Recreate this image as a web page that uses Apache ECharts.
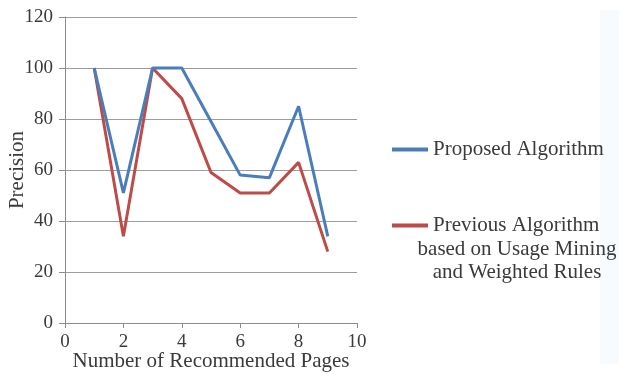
<!DOCTYPE html>
<html>
<head>
<meta charset="utf-8">
<script src="https://cdn.jsdelivr.net/npm/echarts@6/dist/echarts.min.js"></script>
<style>
  html, body { margin: 0; padding: 0; background: #ffffff; }
  #chart { width: 619px; height: 374px; }
</style>
</head>
<body>
<div id="chart"></div>
<script>
// Number of recommended pages (x positions)
const pages = [1, 2, 3, 4, 5, 6, 7, 8, 9];
// Precision of each algorithm
const proposed = [100, 51, 100, 100, 79, 58, 57, 85, 34];
const previous = [100, 34, 100, 88, 59, 51, 51, 63, 28];

const seriesNames = ['Proposed Algorithm', 'Previous Algorithm'];
const previousExtraLines = ['based on Usage Mining', 'and Weighted Rules'];

const FONT = '"Liberation Serif", "Times New Roman", serif';
const TEXT_COLOR = '#3a3a3a';
const BLUE = '#4a7ebb';
const RED = '#be4b48';

const pair = (xs, ys) => xs.map((x, i) => [x, ys[i]]);

const chart = echarts.init(document.getElementById('chart'), null, { renderer: 'canvas' });

// Legend continuation lines for the second series, centred under its first line
const legendLines = previousExtraLines.map((line, i) => ({
  type: 'text',
  x: 517,
  y: 249 + i * 23,
  z: 10,
  style: {
    text: line,
    font: '21px ' + FONT,
    fill: TEXT_COLOR,
    textAlign: 'center',
    textVerticalAlign: 'middle'
  }
}));

chart.setOption({
  animation: false,
  backgroundColor: '#ffffff',
  grid: { left: 65, right: 262, top: 17, bottom: 51, containLabel: false, outerBoundsMode: 'none' },
  xAxis: {
    type: 'value',
    min: 0, max: 10, interval: 2,
    name: 'Number of Recommended Pages',
    nameLocation: 'middle',
    nameGap: 28,
    nameMoveOverlap: false,
    nameTextStyle: { fontFamily: FONT, fontSize: 21, color: TEXT_COLOR },
    axisLine: { lineStyle: { color: '#8c8c8c', width: 1 } },
    axisTick: { show: true, length: 5, lineStyle: { color: '#8c8c8c' } },
    axisLabel: { fontFamily: FONT, fontSize: 19, color: TEXT_COLOR, margin: 10 },
    splitLine: { show: false }
  },
  yAxis: {
    type: 'value',
    min: 0, max: 120, interval: 20,
    name: 'Precision',
    nameLocation: 'middle',
    nameRotate: 90,
    nameGap: 37,
    nameMoveOverlap: false,
    nameTextStyle: { fontFamily: FONT, fontSize: 21, color: TEXT_COLOR },
    axisLine: { show: true, lineStyle: { color: '#8c8c8c', width: 1 } },
    axisTick: { show: true, length: 6, lineStyle: { color: '#8c8c8c' } },
    axisLabel: { fontFamily: FONT, fontSize: 19, color: TEXT_COLOR, margin: 12 },
    splitLine: { show: true, lineStyle: { color: '#9d9d9d', width: 1.2 } }
  },
  legend: [
    {
      data: [seriesNames[0]],
      left: 392, top: 139,
      padding: 0,
      icon: 'rect',
      itemWidth: 36, itemHeight: 4,
      textStyle: { fontFamily: FONT, fontSize: 21, color: TEXT_COLOR }
    },
    {
      data: [seriesNames[1]],
      left: 392, top: 215,
      padding: 0,
      icon: 'rect',
      itemWidth: 36, itemHeight: 4,
      textStyle: { fontFamily: FONT, fontSize: 21, color: TEXT_COLOR }
    }
  ],
  graphic: [
    {
      type: 'rect',
      z: -10,
      shape: { x: 600, y: 10, width: 19, height: 354 },
      style: { fill: '#f8fbfe' }
    }
  ].concat(legendLines),
  series: [
    {
      name: seriesNames[0],
      type: 'line',
      data: pair(pages, proposed),
      showSymbol: false,
      symbol: 'none',
      color: BLUE,
      lineStyle: { color: BLUE, width: 3 },
      z: 3
    },
    {
      name: seriesNames[1],
      type: 'line',
      data: pair(pages, previous),
      showSymbol: false,
      symbol: 'none',
      color: RED,
      lineStyle: { color: RED, width: 3 },
      z: 2
    }
  ]
});
</script>
</body>
</html>
